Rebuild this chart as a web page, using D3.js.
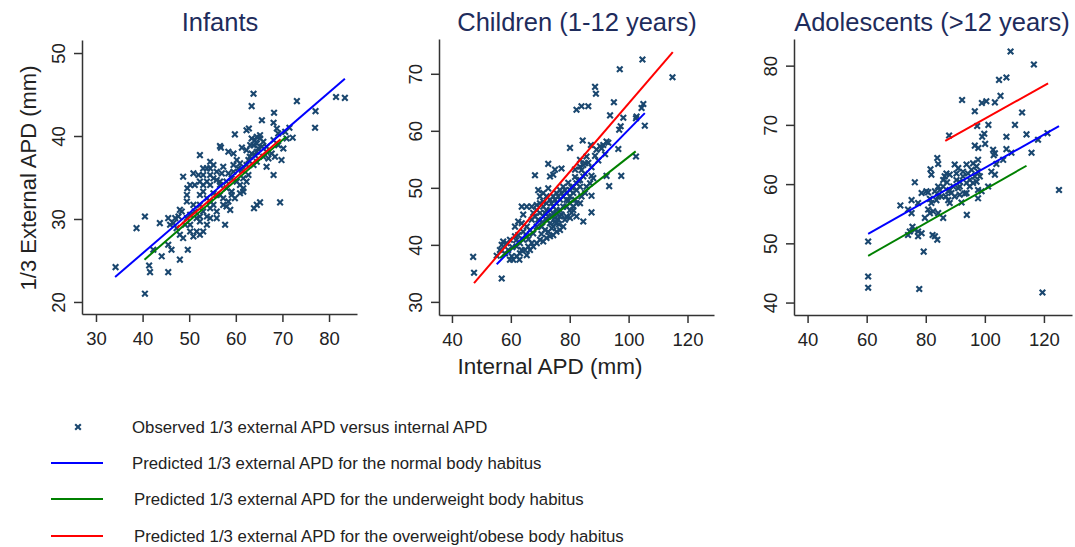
<!DOCTYPE html>
<html>
<head>
<meta charset="utf-8">
<script src="https://cdn.jsdelivr.net/npm/d3@7"></script>
<style>
  body { margin: 0; background: #fff; }
  svg { display: block; font-family: "Liberation Sans", Arial, sans-serif; }
</style>
</head>
<body>
<div id="vis"></div>
<script>
// observed points [internal APD, 1/3 external APD]
var infantsObs = [
  [63.8,45.1],[63.4,43.6],[73.1,44.2],[81.5,44.7],[83.4,44.6],[68.2,42.8],[65.6,41.9],[77.1,43.0],
  [77.0,41.0],[72.2,39.8],[71.5,41.0],[59.8,40.2],[62.3,40.7],[62.8,40.9],[68.1,41.6],[68.8,40.9],
  [69.1,40.3],[56.6,38.8],[56.8,38.6],[52.3,37.7],[58.4,38.1],[59.5,37.9],[61.3,38.6],[62.3,38.3],
  [63.4,39.7],[64.1,39.5],[64.5,39.1],[65.2,40.1],[65.6,38.7],[65.9,39.3],[66.6,36.3],[68.1,35.3],
  [69.5,32.0],[65.2,32.0],[64.5,31.7],[63.9,31.3],[48.7,35.1],[49.6,33.7],[50.9,35.5],[52.0,35.3],
  [54.5,36.1],[55.9,35.7],[57.3,36.3],[58.4,35.5],[59.5,36.5],[60.2,37.1],[60.5,36.1],[61.3,35.9],
  [61.6,34.9],[62.3,34.5],[61.6,33.3],[60.9,33.1],[59.8,32.5],[58.8,31.1],[58.0,31.5],[57.3,31.7],
  [55.9,30.9],[54.5,30.1],[53.8,29.3],[53.0,28.5],[52.3,28.1],[51.6,28.5],[50.9,27.9],[50.2,28.5],
  [48.7,27.7],[48.0,28.1],[47.3,28.9],[46.6,29.5],[45.9,29.3],[45.5,30.1],[48.0,31.1],[49.5,32.1],
  [52.3,32.9],[53.0,33.3],[53.8,32.5],[52.3,31.7],[55.2,33.1],[56.6,34.1],[58.0,33.7],[59.1,32.9],
  [55.9,30.1],[57.7,29.3],[43.7,29.5],[40.5,30.3],[38.7,28.9],[42.3,26.3],[44.1,25.5],[45.5,26.9],
  [46.2,26.3],[49.7,26.3],[48.0,25.1],[45.5,23.6],[41.4,24.4],[41.6,23.6],[34.2,24.2],[40.5,21.0],
  [54.5,34.1],[53.8,34.5],[55.2,34.9],[52.3,34.5],[53.0,34.1],[55.9,32.9],[56.6,32.9],[57.3,32.5],
  [58.4,32.1],[59.1,33.3],[61.6,33.7],[62.7,35.3],[63.8,36.5],[64.5,36.9],[65.9,37.5],[67.0,37.3],
  [66.6,38.1],[67.7,37.9],[68.4,37.5],[69.8,37.1],[70.2,38.5],[69.1,38.9],[68.1,39.5],[70.9,39.7],
  [70.6,40.5],[62.3,36.5],[60.9,36.7],[63.0,37.5],[64.1,37.7],[59.1,34.9],[58.0,34.5],[56.6,34.5],
  [54.5,32.1],[53.0,30.9],[51.6,30.1],[50.2,30.5],[49.5,30.1],[49.1,29.3],[50.2,29.3],[51.2,30.9],
  [54.5,31.3],[55.2,31.7],[53.8,30.3],[52.3,29.7],[52.3,30.3],[50.9,31.7],[49.5,32.9],[48.4,30.9],
  [47.7,30.3],[47.0,30.1],[57.0,35.5],[55.9,34.7],[54.5,35.3],[53.0,35.3],[51.2,34.1],[50.2,34.1],
  [64.5,38.1],[64.8,38.5],[66.6,38.7],[63.8,38.9],[64.5,39.9],[65.2,39.7],[63.1,38.9],[63.4,37.9],
  [62.7,37.1],[59.5,35.7],[60.2,34.5],[60.9,34.1],[55.2,36.5],[53.8,36.1],[53.0,36.1],[54.5,36.9]
];

var childrenObs = [
  [104.7,72.5],[97.0,70.8],[114.9,69.4],[88.6,67.7],[88.9,66.5],[95.0,65.0],[82.3,63.7],[84.0,64.3],
  [86.3,64.3],[93.7,62.7],[98.2,62.3],[105.0,64.7],[104.4,64.0],[102.5,62.2],[102.7,62.5],[96.8,60.2],
  [97.3,60.8],[105.5,60.9],[84.4,58.3],[80.1,57.0],[87.2,57.5],[89.1,56.7],[90.3,57.3],[92.5,58.1],
  [91.4,57.5],[96.5,56.8],[102.5,55.5],[72.7,54.2],[75.0,53.2],[77.2,53.4],[81.8,53.2],[83.5,53.7],
  [85.2,54.3],[85.7,55.5],[68.2,52.2],[73.3,52.0],[74.4,52.3],[87.4,52.1],[88.0,51.7],[92.5,52.1],
  [97.5,52.1],[93.4,50.3],[87.4,48.6],[87.4,45.7],[84.6,44.1],[82.3,45.0],[80.1,44.7],[47.2,37.9],
  [47.5,35.1],[55.2,38.1],[56.9,34.1],[63.7,46.7],[64.2,45.3],[63.7,43.8],[65.4,46.7],[67.1,46.7],
  [68.8,47.0],[62.5,44.1],[61.4,43.2],[69.3,49.6],[69.9,48.5],[71.0,49.1],[72.1,48.5],[72.7,49.9],
  [57.4,40.6],[58.6,40.3],[56.9,40.0],[59.7,40.9],[60.3,38.0],[59.7,37.4],[60.8,37.4],[62.0,38.0],
  [63.1,38.5],[65.4,38.2],[66.5,39.1],[67.6,39.7],[68.8,40.3],[69.9,40.9],[71.0,40.6],[72.1,41.2],
  [73.3,41.5],[74.4,41.7],[75.5,42.3],[76.7,42.6],[77.8,43.2],[78.4,44.4],[78.9,45.0],[80.1,46.1],
  [81.2,46.7],[76.7,45.0],[75.5,43.8],[74.4,43.2],[73.3,43.8],[72.1,44.4],[71.0,45.0],[69.9,45.6],
  [73.3,46.1],[74.4,46.7],[75.5,47.3],[76.7,47.9],[77.8,48.5],[78.9,49.1],[80.1,49.6],[81.2,50.2],
  [82.3,50.8],[83.5,51.4],[84.6,52.0],[77.8,50.2],[76.7,49.6],[75.5,49.1],[74.4,48.5],[73.3,47.9],
  [72.1,47.3],[71.0,46.7],[78.9,47.9],[80.1,48.5],[81.2,49.1],[82.3,49.6],[83.5,50.2],[81.8,47.9],
  [80.1,47.3],[77.8,46.7],[76.7,46.1],[75.5,45.6],[66.5,42.6],[67.6,42.0],[68.8,43.2],[65.4,41.5],
  [64.2,40.9],[63.1,40.3],[62.0,39.7],[61.4,41.5],[62.5,41.7],[64.2,42.3],[65.4,43.2],[67.1,44.4],
  [68.2,45.0],[69.3,44.4],[70.5,43.2],[71.6,42.6],[72.7,42.3],[73.8,45.0],[75.0,44.7],[76.1,44.4],
  [77.2,45.3],[78.9,46.7],[80.6,45.6],[82.3,47.3],[84.0,48.5],[85.2,49.1],[85.7,50.2],[86.9,50.8],
  [83.5,47.3],[81.2,46.1],[67.1,40.3],[65.9,39.7],[64.8,39.1],[63.7,39.1],[59.1,39.1],[58.0,38.5],
  [56.3,39.1],[72.1,46.1],[71.0,47.6],[69.9,47.3],[68.8,46.1],[67.6,45.6],[71.6,45.6],[72.7,45.0],
  [74.4,45.6],[75.5,46.1],[73.8,47.3],[75.0,47.9],[76.1,48.5],[77.2,49.1],[78.4,49.6],[79.5,50.9],
  [80.6,50.1],[81.8,51.9],[82.9,51.3],[84.0,53.1],[85.2,52.5],[86.3,54.4],[87.4,53.6],[88.6,55.6],
  [89.7,54.8],[90.8,56.9],[92.0,55.9],[93.1,57.9],[83.5,54.9],[84.6,54.0],[70.4,41.9],[66.0,41.0],
  [60.5,39.6],[61.8,40.8],[74.9,44.0],[79.6,47.8],[70.7,44.0],[73.9,42.9],[76.3,43.6],[62.9,37.4]
];

var adolescentsObs = [
  [108.7,82.4],[116.6,80.2],[104.8,77.6],[107.3,78.0],[105.3,74.9],[103.4,73.8],[100.5,74.0],[99.0,73.7],
  [92.3,74.2],[96.6,72.3],[112.6,72.1],[101.2,70.0],[97.4,69.8],[110.2,70.0],[99.8,68.5],[99.1,68.0],
  [107.3,68.0],[114.1,68.4],[118.0,67.5],[121.2,68.6],[87.9,68.2],[96.6,66.5],[97.8,66.1],[100.1,66.8],
  [102.8,65.8],[103.4,65.2],[103.0,64.9],[107.3,65.9],[109.0,65.3],[115.8,65.3],[106.2,64.1],[103.9,63.4],
  [102.2,62.1],[103.4,61.6],[83.9,64.4],[84.2,63.4],[81.6,62.5],[81.9,61.6],[87.0,61.8],[86.4,61.3],
  [89.8,63.3],[91.0,62.7],[90.4,61.8],[92.6,62.1],[93.8,63.3],[96.0,63.5],[97.2,63.0],[97.7,62.1],
  [96.6,61.3],[94.9,60.7],[93.8,60.2],[91.5,60.4],[92.6,61.3],[94.3,61.8],[95.5,62.4],[97.2,60.4],
  [98.3,61.3],[97.7,64.1],[76.3,60.3],[78.6,58.5],[80.2,58.8],[80.8,58.6],[83.1,58.8],[84.8,59.0],
  [85.9,59.6],[87.2,60.3],[88.1,59.0],[89.3,59.6],[91.0,59.3],[91.5,58.2],[93.2,58.4],[93.8,58.5],
  [97.7,57.6],[98.9,58.8],[101.1,59.6],[97.7,59.0],[86.8,57.9],[87.6,57.3],[88.1,56.8],[84.2,57.9],
  [83.6,57.3],[81.9,56.8],[80.8,55.7],[81.4,55.1],[82.5,55.4],[84.2,55.1],[85.9,54.3],[79.7,54.3],
  [75.2,57.3],[77.4,56.8],[71.4,56.4],[74.0,55.7],[75.2,55.1],[75.5,52.8],[74.6,52.0],[76.3,52.3],
  [77.4,52.0],[78.6,51.7],[74.0,51.4],[77.4,51.2],[82.3,51.4],[83.1,51.2],[83.9,50.6],[79.3,48.6],
  [93.9,54.8],[92.1,56.9],[60.5,50.3],[60.5,44.4],[60.5,42.5],[77.8,42.3],[119.5,41.7],[125.1,59.0],
  [89.8,57.9],[88.7,58.5],[91.5,59.6],[90.4,60.7],[94.9,59.6],[96.0,60.2],[88.1,61.6],[85.9,60.7],
  [84.2,59.6],[87.6,58.8],[81.4,57.5],[85.3,57.9]
];

// predicted lines, [start, end]
var infantsNormal = [[34.1,23.0],[83.4,46.9]];
var infantsUnder = [[40.4,25.1],[70.8,39.9]];
var infantsOver = [[47.4,28.9],[69.6,39.6]];
var childrenNormal = [[55.2,36.6],[105.5,63.1]];
var childrenUnder = [[56.3,37.7],[102.4,56.4]];
var childrenOver = [[47.5,33.3],[115.0,73.8]];
var adolescentsNormal = [[60.5,51.6],[125.1,69.8]];
var adolescentsUnder = [[60.5,47.9],[114.1,63.1]];
var adolescentsOver = [[86.6,67.3],[121.4,77.0]];

// ticks
var infantsXTicks = [30, 40, 50, 60, 70, 80];
var infantsYTicks = [20, 30, 40, 50];
var childrenXTicks = [40, 60, 80, 100, 120];
var childrenYTicks = [30, 40, 50, 60, 70];
var adolescentsXTicks = [40, 60, 80, 100, 120];
var adolescentsYTicks = [40, 50, 60, 70, 80];

var titles = ["Infants", "Children (1-12 years)", "Adolescents (>12 years)"];
var legendLabels = [
  "Observed 1/3 external APD versus internal APD",
  "Predicted 1/3 external APD for the normal body habitus",
  "Predicted 1/3 external APD for the underweight body habitus",
  "Predicted 1/3 external APD for the overweight/obese body habitus"
];

var navy = "#1a476f";
var lineColors = { normal: "#0000ff", under: "#008000", over: "#ff0000" };

var width = 1075, height = 547;

var svg = d3.select("#vis").append("svg")
    .attr("width", width)
    .attr("height", height);

var panels = [
  { obs: infantsObs, normal: infantsNormal, under: infantsUnder, over: infantsOver,
    xTicks: infantsXTicks, yTicks: infantsYTicks,
    xDom: [27.0, 86.0], yDom: [18.55, 51.57],
    left: 82, right: 357, top: 40, bottom: 314, titleX: 220 },
  { obs: childrenObs, normal: childrenNormal, under: childrenUnder, over: childrenOver,
    xTicks: childrenXTicks, yTicks: childrenYTicks,
    xDom: [35.6, 129.0], yDom: [27.7, 76.1],
    left: 439, right: 714, top: 39, bottom: 315, titleX: 577 },
  { obs: adolescentsObs, normal: adolescentsNormal, under: adolescentsUnder, over: adolescentsOver,
    xTicks: adolescentsXTicks, yTicks: adolescentsYTicks,
    xDom: [35.4, 129.5], yDom: [37.9, 84.5],
    left: 794, right: 1072, top: 39, bottom: 315, titleX: 932 }
];

function cross(g, x, y, r) {
  g.append("path")
    .attr("d", "M" + (x - r) + "," + (y - r) + "L" + (x + r) + "," + (y + r) +
               "M" + (x - r) + "," + (y + r) + "L" + (x + r) + "," + (y - r))
    .attr("stroke", navy)
    .attr("stroke-width", 2.1)
    .attr("fill", "none");
}

panels.forEach(function(p, i) {
  var x = d3.scaleLinear().domain(p.xDom).range([p.left, p.right]);
  var y = d3.scaleLinear().domain(p.yDom).range([p.bottom, p.top]);

  var g = svg.append("g");

  // title
  g.append("text")
    .attr("x", p.titleX)
    .attr("y", 31)
    .attr("text-anchor", "middle")
    .attr("font-size", 25.5)
    .attr("fill", "#1e2c5c")
    .text(titles[i]);

  // axes
  var xAxis = g.append("g")
    .attr("transform", "translate(0," + p.bottom + ")")
    .call(d3.axisBottom(x).tickValues(p.xTicks).tickSize(8).tickSizeOuter(0).tickPadding(10));
  xAxis.selectAll("text").attr("font-size", 18.5).attr("fill", "#222");

  var yAxis = g.append("g")
    .attr("transform", "translate(" + p.left + ",0)")
    .call(d3.axisLeft(y).tickValues(p.yTicks).tickSize(8).tickSizeOuter(0));
  yAxis.selectAll("text")
    .attr("font-size", 18.5)
    .attr("fill", "#222")
    .attr("text-anchor", "middle")
    .attr("dy", null)
    .attr("x", null)
    .attr("transform", function(d) { return "translate(-17,0) rotate(-90)"; });

  [xAxis, yAxis].forEach(function(a) {
    a.select(".domain").attr("stroke", "#333").attr("stroke-width", 1.5);
    a.selectAll(".tick line").attr("stroke", "#333").attr("stroke-width", 1.5);
    a.attr("font-family", null);
  });

  // observed points
  var pts = g.append("g");
  p.obs.forEach(function(d) { cross(pts, x(d[0]), y(d[1]), 2.8); });

  // predicted lines
  var line = d3.line().x(function(d) { return x(d[0]); }).y(function(d) { return y(d[1]); });
  [["normal", p.normal], ["under", p.under], ["over", p.over]].forEach(function(l) {
    g.append("path")
      .attr("d", line(l[1]))
      .attr("stroke", lineColors[l[0]])
      .attr("stroke-width", 2)
      .attr("fill", "none");
  });
});

// axis titles
svg.append("text")
  .attr("x", 550)
  .attr("y", 374)
  .attr("text-anchor", "middle")
  .attr("font-size", 22.5)
  .attr("fill", "#222")
  .text("Internal APD (mm)");

svg.append("text")
  .attr("transform", "translate(36,178) rotate(-90)")
  .attr("text-anchor", "middle")
  .attr("font-size", 22)
  .attr("fill", "#222")
  .text("1/3 External APD (mm)");

// legend
var legend = svg.append("g");
var legendY = [427, 463, 499, 536];
var legendColors = [null, lineColors.normal, lineColors.under, lineColors.over];
legendLabels.forEach(function(label, i) {
  if (i === 0) {
    cross(legend, 78, legendY[i], 2.8);
  } else {
    legend.append("line")
      .attr("x1", 51).attr("x2", 103)
      .attr("y1", legendY[i]).attr("y2", legendY[i])
      .attr("stroke", legendColors[i])
      .attr("stroke-width", 2);
  }
  legend.append("text")
    .attr("x", i < 2 ? 132 : 134)
    .attr("y", legendY[i] + 6)
    .attr("font-size", 16.8)
    .attr("fill", "#222")
    .text(label);
});
</script>
</body>
</html>
